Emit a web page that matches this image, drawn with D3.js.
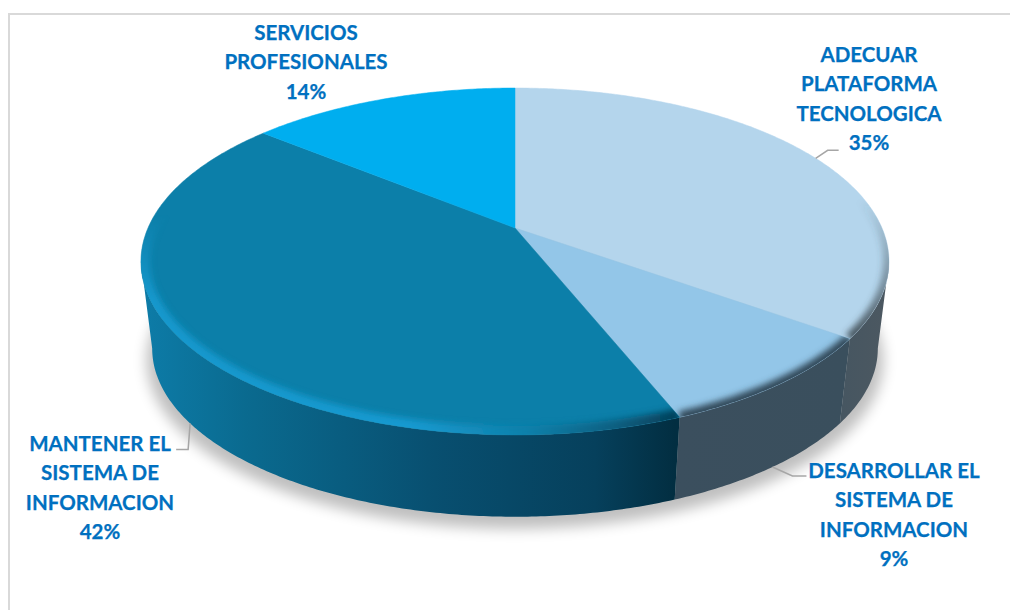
<!DOCTYPE html>
<html>
<head>
<meta charset="utf-8">
<script src="https://cdn.jsdelivr.net/npm/d3@7/dist/d3.min.js"></script>
<style>
  html, body { margin: 0; padding: 0; background: #fff; }
  svg { display: block; }
  text { font-family: Lato, "Open Sans", sans-serif; font-weight: 700; font-size: 20.5px; fill: #0070c0; stroke: #0070c0; stroke-width: 0.25px; text-anchor: middle; }
</style>
</head>
<body>
<svg id="chart" width="1010" height="610"></svg>
<script>
// Budget share per activity
const categories = [
  ["ADECUAR", "PLATAFORMA", "TECNOLOGICA"],
  ["DESARROLLAR EL", "SISTEMA DE", "INFORMACION"],
  ["MANTENER EL", "SISTEMA DE", "INFORMACION"],
  ["SERVICIOS", "PROFESIONALES"]
];
const values = [35, 9, 42, 14];
const topColors = ["#b4d5ec", "#93c6e8", "#0c7fa9", "#00aeef"];

// Where each text block sits and how its leader bends
const labelBoxes = [
  { x: 869, y: 62,  elbow: [12, -8], end: [23, -8] },
  { x: 894, y: 478, elbow: [20, 9],  end: [34, 9] },
  { x: 100, y: 451, elbow: [-2, 26], end: [-14, 26] },
  { x: 306, y: 40 }
];

const W = 1010, H = 610;
const svg = d3.select("#chart").attr("viewBox", [0, 0, W, H]);
const defs = svg.append("defs");

// Disc geometry: a tilted circle seen in perspective, so the front looks bigger than the back
const disc = { cx: 515, cy: 228, R: 367, h: 167, k: 0.193, drop: 88, shrink: 0.97 };
const project = (a, level) => {
  const s = level === "bottom" ? disc.shrink : 1;
  const cy = level === "bottom" ? disc.cy + disc.drop : disc.cy;
  const u = Math.sin(a), v = Math.cos(a), d = 1 + disc.k * v;
  return [disc.cx + s * disc.R * u / d, cy - s * disc.h * v / d];
};
const arcPoints = (a0, a1, level) => {
  const n = Math.max(2, Math.ceil((a1 - a0) / 0.01));
  return d3.range(n + 1).map(i => project(a0 + (a1 - a0) * i / n, level));
};
const line = d3.line();
const slices = d3.pie().sort(null).value(d => d)(values);

// The wall is only visible between the two angles where the rim is widest on screen
const tangentRight = Math.acos(-disc.k);
const tangentLeft = 2 * Math.PI - tangentRight;

// Filters
const blur = (id, dev) => defs.append("filter").attr("id", id)
  .attr("x", "-20%").attr("y", "-20%").attr("width", "140%").attr("height", "140%")
  .append("feGaussianBlur").attr("stdDeviation", dev);
blur("soft", 3);
blur("shadowBlur", 7);

const gradient = (id, x1, y1, x2, y2, stops) => {
  const g = defs.append("linearGradient").attr("id", id).attr("gradientUnits", "userSpaceOnUse")
    .attr("x1", x1).attr("y1", y1).attr("x2", x2).attr("y2", y2);
  stops.forEach(([o, c, a]) => g.append("stop").attr("offset", o).attr("stop-color", c).attr("stop-opacity", a === undefined ? 1 : a));
};

// Wall shading runs left to right
gradient("wall0", 840, 0, 889, 0, [[0, "#465661"], [1, "#4c5861"]]);
gradient("wall1", 672, 0, 845, 0, [[0, "#3b4f5e"], [1, "#3a4f5d"]]);
gradient("wall2", 141, 0, 675, 0, [[0, "#0d7ca8"], [0.2, "#0a6a8f"], [0.55, "#084f70"], [0.85, "#06405c"], [1, "#022e41"]]);

// Rim shading along the front edge of the top face
gradient("rim0", 0, 200, 0, 350, [[0, "#3d4a52", 0], [0.6, "#3d4a52", 0.55], [1, "#3d4a52", 1]]);
gradient("rim1", 0, 340, 0, 420, [[0, "#33495a", 1], [1, "#33495a", 1]]);
gradient("rim2", 141, 0, 680, 0, [[0, "#1398cc"], [0.5, "#179ad0"], [0.72, "#0e80aa"], [0.88, "#0a5f80"], [1, "#053f58"]]);

// The bright rim fades out towards the back of the disc
gradient("rimFade", 0, 215, 0, 300, [[0, "#000"], [0.35, "#666"], [1, "#fff"]]);
defs.append("mask").attr("id", "rimMask").attr("maskUnits", "userSpaceOnUse")
  .attr("x", 0).attr("y", 0).attr("width", W).attr("height", H)
  .append("rect").attr("width", W).attr("height", H).attr("fill", "url(#rimFade)");

// Frame on the top and left
svg.append("path")
  .attr("d", line([[9, H], [9, 14], [W, 14]]))
  .attr("fill", "none").attr("stroke", "#d9d9d9").attr("stroke-width", 2);

// Soft shadow under the disc
svg.append("path")
  .attr("d", line(arcPoints(0, 2 * Math.PI, "bottom")) + "Z")
  .attr("transform", "translate(515 12) scale(1.015 1) translate(-515 0)")
  .attr("fill", "#000").attr("opacity", 0.25).attr("filter", "url(#shadowBlur)");

// Side walls of the slices that reach the front of the disc
const walls = svg.append("g");
slices.forEach((s, i) => {
  const a0 = Math.max(s.startAngle, tangentRight);
  const a1 = Math.min(s.endAngle, tangentLeft);
  if (a1 <= a0) return;
  const pts = arcPoints(a0, a1, "top").concat(arcPoints(a0, a1, "bottom").reverse());
  walls.append("path").attr("d", line(pts) + "Z")
    .attr("fill", `url(#wall${i})`);
});

// Top face
const face = svg.append("g");
slices.forEach((s, i) => {
  const pts = [[disc.cx, disc.cy]].concat(arcPoints(s.startAngle, s.endAngle, "top"));
  const d = line(pts) + "Z";
  defs.append("clipPath").attr("id", `clip${i}`).append("path").attr("d", d);
  face.append("path").attr("d", d).attr("fill", topColors[i])
    .attr("stroke", topColors[i]).attr("stroke-width", 0.5);
  if (i === 3) return;
  // Bevelled rim, blurred and kept inside the slice
  const rim = face.append("g").attr("clip-path", `url(#clip${i})`);
  const rimInner = i === 2 ? rim.append("g").attr("mask", "url(#rimMask)") : rim;
  rimInner.append("path")
    .attr("d", line(arcPoints(s.startAngle, s.endAngle, "top")))
    .attr("fill", "none")
    .attr("stroke", `url(#rim${i})`)
    .attr("stroke-width", i === 2 ? 18 : 12)
    .attr("filter", "url(#soft)");
});

// Leader lines start on the rim at each slice's middle angle
const leaders = svg.append("g").attr("fill", "none").attr("stroke", "#a6a6a6").attr("stroke-width", 1.5);
slices.forEach((s, i) => {
  const box = labelBoxes[i];
  if (!box.elbow) return;
  const mid = (s.startAngle + s.endAngle) / 2;
  const level = i === 0 ? "top" : "bottom";
  const [px, py] = project(mid, level);
  const add = ([dx, dy]) => [px + dx, py + dy];
  leaders.append("path").attr("d", line([[px, py], add(box.elbow), add(box.end)]));
});

// Text blocks: category lines followed by the percentage
const labels = svg.append("g");
slices.forEach((s, i) => {
  const box = labelBoxes[i];
  const t = labels.append("text");
  categories[i].concat(`${values[i]}%`).forEach((txt, j) => {
    t.append("tspan").attr("x", box.x).attr("y", box.y + j * 29.4).text(txt);
  });
});
</script>
</body>
</html>
